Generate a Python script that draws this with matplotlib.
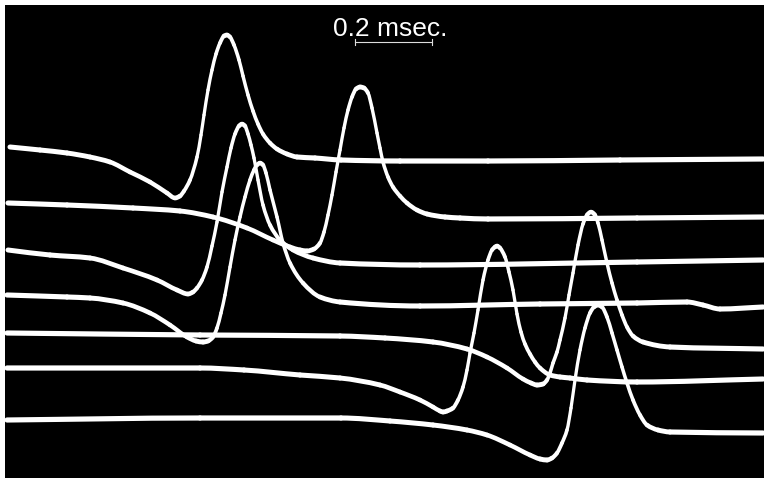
import numpy as np
import matplotlib.pyplot as plt
from matplotlib.path import Path
from matplotlib.patches import PathPatch

# Oscilloscope sweeps, horizontal position in screen units (385 units = 1 msec),
# vertical deflection in screen units (down is positive).
trace_1 = [(10, 147), (40, 150), (67, 153), (90, 157), (110, 162), (130, 172),
           (150, 182), (167, 193), (175, 198), (180, 196), (184, 191), (190, 180),
           (197, 157), (201, 135), (204, 115), (208, 90), (212, 70), (216, 54),
           (220, 43), (224, 36), (227, 35), (230, 37), (234, 45), (239, 60),
           (243, 76), (248, 95), (253, 111), (258, 124), (263, 134), (270, 143),
           (277, 149), (287, 154), (297, 157), (315, 158), (341, 160), (400, 161),
           (488, 161), (620, 160), (763, 159)]

trace_2 = [(8, 203), (67, 205), (133, 208), (180, 211), (213, 217), (247, 228),
           (273, 240), (290, 247), (300, 250), (307, 251), (314, 249), (320, 243),
           (324, 232), (328, 215), (332, 195), (336, 172), (340, 150), (344, 128),
           (348, 110), (352, 97), (356, 89), (360, 87), (364, 88), (368, 93),
           (372, 108), (377, 133), (380, 148), (383, 162), (388, 177), (393, 187),
           (400, 196), (407, 203), (417, 210), (427, 214), (445, 217), (460, 218),
           (488, 219), (637, 218), (763, 217)]

trace_3 = [(8, 250), (50, 255), (90, 258), (123, 268), (157, 280), (177, 290),
           (188, 294), (193, 292), (197, 288), (202, 280), (207, 267), (212, 246),
           (217, 222), (222, 192), (227, 167), (231, 148), (235, 134), (239, 126),
           (242, 124), (245, 126), (248, 134), (251, 145), (254, 158), (258, 180),
           (263, 205), (270, 225), (280, 240), (293, 250), (313, 258), (340, 263),
           (420, 265), (637, 262), (763, 260)]

trace_4 = [(7, 295), (67, 297), (90, 298), (123, 303), (150, 313), (170, 325),
           (187, 337), (196, 341), (203, 342), (208, 341), (213, 337), (217, 328),
           (221, 313), (225, 295), (230, 267), (235, 240), (240, 217), (245, 197),
           (250, 180), (254, 170), (257, 165), (260, 163), (263, 165), (266, 173),
           (270, 190), (277, 217), (283, 243), (290, 263), (303, 283), (320, 297),
           (340, 302), (420, 306), (540, 304), (637, 303), (687, 302), (703, 305),
           (720, 309), (763, 307)]

trace_5 = [(7, 333), (200, 335), (340, 336), (385, 338), (433, 342),
           (467, 349), (487, 357), (507, 368), (523, 379), (531, 383), (537, 385),
           (543, 384), (547, 380), (550, 373), (553, 363), (557, 352), (560, 340),
           (565, 318), (569, 295), (573, 273), (578, 245), (583, 224), (587, 215),
           (591, 212), (595, 215), (598, 223), (602, 240), (607, 263), (612, 283),
           (617, 300), (622, 315), (627, 327), (633, 336), (643, 342), (670, 347),
           (763, 349)]

trace_6 = [(7, 368), (200, 368), (244, 370), (300, 375), (340, 378), (380, 385),
           (400, 392), (420, 400), (433, 407), (440, 411), (443, 412), (447, 411),
           (453, 408), (458, 400), (463, 387), (467, 370), (470, 353), (474, 333),
           (478, 310), (483, 280), (488, 260), (492, 250), (495, 247), (497, 246),
           (500, 248), (505, 257), (509, 272), (513, 290), (517, 314), (521, 332),
           (525, 344), (530, 354), (535, 362), (540, 368), (550, 375), (560, 377),
           (570, 378), (587, 380), (637, 382), (763, 379)]

trace_7 = [(7, 420), (200, 418), (341, 418), (390, 421), (433, 425),
           (467, 430), (487, 435), (510, 445), (530, 455), (540, 459), (547, 460),
           (552, 458), (557, 453), (562, 443), (567, 430), (571, 408), (575, 380),
           (580, 350), (585, 328), (590, 313), (594, 307), (598, 305), (602, 307),
           (607, 317), (612, 333), (617, 350), (622, 367), (627, 383), (633, 400),
           (640, 415), (647, 425), (658, 430), (670, 432), (763, 433)]

sweeps = [trace_1, trace_2, trace_3, trace_4, trace_5, trace_6, trace_7]

scale_label = '0.2 msec.'
scale_ms = 0.2
units_per_ms = 385
scale_start = 355


def tangents(x, y):
    """
    Shape-preserving slopes at each point so the drawn curve does not overshoot.
    """
    h = np.diff(x)
    d = np.diff(y) / h
    m = np.zeros_like(y)
    for i in range(1, len(y) - 1):
        if d[i - 1] * d[i] > 0:
            w1 = 2 * h[i] + h[i - 1]
            w2 = h[i] + 2 * h[i - 1]
            m[i] = (w1 + w2) / (w1 / d[i - 1] + w2 / d[i])
    m[0] = d[0]
    m[-1] = d[-1]
    return m


def draw_sweep(ax, points):
    """
    Draws one sweep as cubic pieces; the beam gets thinner where it moves fast.
    """
    pts = np.asarray(points, dtype=float)
    x, y = pts[:, 0], pts[:, 1]
    m = tangents(x, y)
    codes = [Path.MOVETO, Path.CURVE4, Path.CURVE4, Path.CURVE4]
    for i in range(len(x) - 1):
        h = x[i + 1] - x[i]
        verts = [(x[i], y[i]),
                 (x[i] + h / 3, y[i] + m[i] * h / 3),
                 (x[i + 1] - h / 3, y[i + 1] - m[i + 1] * h / 3),
                 (x[i + 1], y[i + 1])]
        slope = abs(y[i + 1] - y[i]) / h
        width_px = 2.9 + 2.3 / (1 + 0.8 * slope)
        ax.add_patch(PathPatch(Path(verts, codes), fill=False, edgecolor='white',
                               lw=width_px * 72 / 100, capstyle='round',
                               joinstyle='round'))


def plot_sweeps() -> None:
    fig = plt.figure(figsize=(7.64, 4.78), dpi=100, facecolor='white')
    ax = fig.add_axes([5 / 764, 0, 759 / 764, 473 / 478])
    ax.set_facecolor('black')
    ax.set_xlim(5, 764)
    ax.set_ylim(478, 5)
    ax.set_xticks([])
    ax.set_yticks([])
    for spine in ax.spines.values():
        spine.set_visible(False)

    for sweep in sweeps:
        draw_sweep(ax, sweep)

    # time calibration bar
    bar_end = scale_start + scale_ms * units_per_ms
    ax.plot([scale_start, bar_end], [42, 42], color='#dddddd', lw=0.8)
    for xe in (scale_start, bar_end):
        ax.plot([xe, xe], [39, 45], color='#dddddd', lw=0.8)
    ax.text((scale_start + bar_end) / 2 - 3, 36, scale_label, color='white',
            fontsize=19, family='Liberation Sans', ha='center', va='baseline')

    fig.savefig('out.png', dpi=100, facecolor='white')
    plt.close(fig)


if __name__ == "__main__":
    plot_sweeps()
